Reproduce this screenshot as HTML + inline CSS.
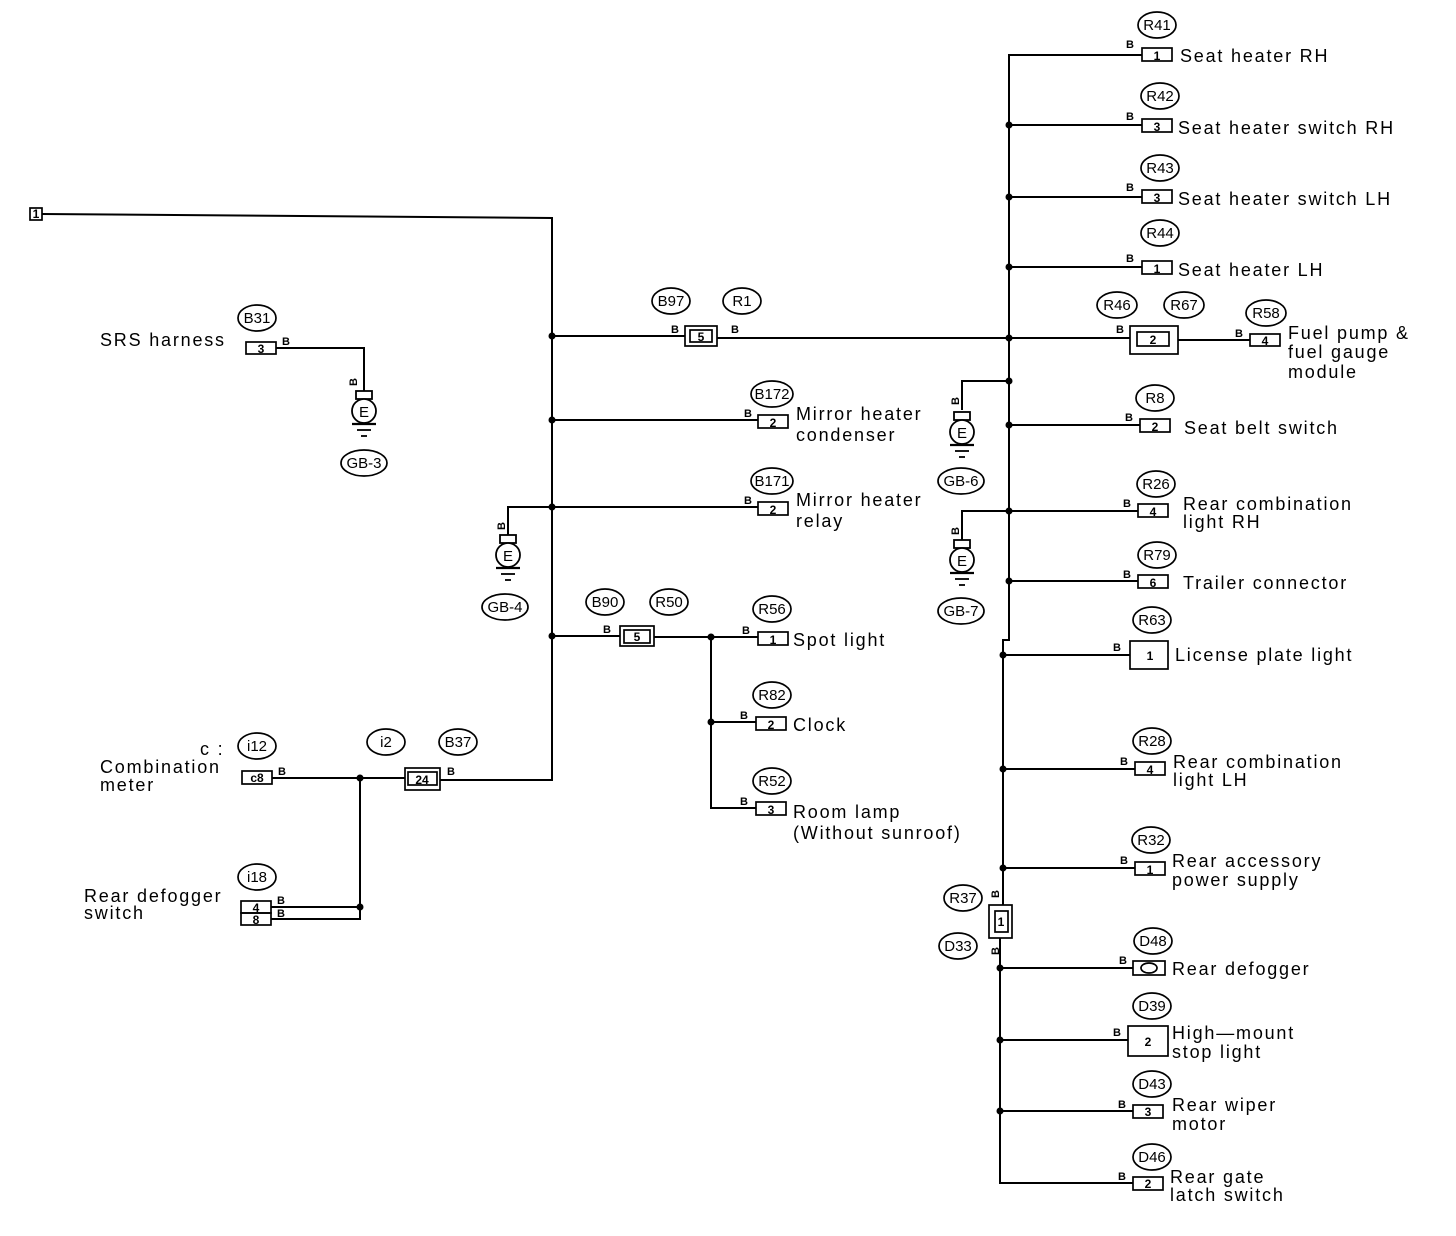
<!DOCTYPE html>
<html><head><meta charset="utf-8"><style>
html,body{margin:0;padding:0;background:#fff}
svg{display:block}
.t{font-family:"Liberation Sans",sans-serif;font-size:18px;letter-spacing:1.8px;fill:#000}
.r{font-family:"Liberation Sans",sans-serif;font-size:15px;fill:#000;text-anchor:middle}
.n{font-family:"Liberation Sans",sans-serif;font-size:12px;fill:#000;text-anchor:middle;font-weight:bold}
.b{font-family:"Liberation Sans",sans-serif;font-size:11px;fill:#000;font-weight:bold}
</style></head><body>
<svg width="1456" height="1236" viewBox="0 0 1456 1236" xmlns="http://www.w3.org/2000/svg">
<defs>
<g id="gnd"><rect x="-8" y="-20" width="16" height="8" fill="#fff" stroke="#000" stroke-width="1.8"/><circle cx="0" cy="0" r="12" fill="#fff" stroke="#000" stroke-width="1.8"/><text x="0" y="6" class="r">E</text><line x1="-12" y1="13" x2="12" y2="13" stroke="#000" stroke-width="2.2"/><line x1="-7" y1="19" x2="7" y2="19" stroke="#000" stroke-width="1.8"/><line x1="-3" y1="25" x2="3" y2="25" stroke="#000" stroke-width="1.8"/></g>
</defs>
<g stroke="#000" stroke-width="2" fill="none">
<polyline points="42,214 552,218 552,780 440,780"/>
<line x1="552" y1="336" x2="685" y2="336"/><line x1="717" y1="338" x2="1130" y2="338"/>
<line x1="552" y1="420" x2="758" y2="420"/>
<line x1="552" y1="507" x2="758" y2="507"/>
<polyline points="552,507 508,507 508,535"/>
<line x1="552" y1="636" x2="620" y2="636"/><line x1="654" y1="637" x2="758" y2="637"/>
<polyline points="711,637 711,808 756,808"/><line x1="711" y1="722" x2="756" y2="722"/>
<line x1="405" y1="778" x2="272" y2="778"/>
<polyline points="360,778 360,919 271,919"/><line x1="271" y1="907" x2="360" y2="907"/>
<polyline points="276,348 364,348 364,391"/>
<polyline points="1142,55 1009,55 1009,640 1003,640 1003,905"/>
<polyline points="1000,938 1000,1183 1133,1183"/>
<line x1="1009" y1="125" x2="1142" y2="125"/>
<line x1="1009" y1="197" x2="1142" y2="197"/>
<line x1="1009" y1="267" x2="1142" y2="267"/>
<line x1="1178" y1="340" x2="1250" y2="340"/>
<polyline points="1009,381 962,381 962,410"/>
<line x1="1009" y1="425" x2="1140" y2="425"/>
<line x1="1009" y1="511" x2="1138" y2="511"/>
<polyline points="1009,511 962,511 962,540"/>
<line x1="1009" y1="581" x2="1138" y2="581"/>
<line x1="1003" y1="655" x2="1130" y2="655"/>
<line x1="1003" y1="769" x2="1135" y2="769"/>
<line x1="1003" y1="868" x2="1135" y2="868"/>
<line x1="1000" y1="968" x2="1133" y2="968"/>
<line x1="1000" y1="1040" x2="1128" y2="1040"/>
<line x1="1000" y1="1111" x2="1133" y2="1111"/>
</g>
<g stroke="#000" stroke-width="1.7" fill="none">
<rect x="30" y="208" width="12" height="12"/>
<rect x="246" y="342" width="30" height="12"/>
<rect x="685" y="326" width="32" height="20"/><rect x="690" y="330" width="22" height="12"/>
<rect x="758" y="415" width="30" height="13"/>
<rect x="758" y="502" width="30" height="13"/>
<rect x="620" y="626" width="34" height="20"/><rect x="624" y="630" width="26" height="13"/>
<rect x="758" y="632" width="30" height="13"/>
<rect x="756" y="717" width="30" height="13"/>
<rect x="756" y="802" width="30" height="13"/>
<rect x="405" y="768" width="35" height="22"/><rect x="408" y="772" width="29" height="13"/>
<rect x="242" y="771" width="30" height="13"/>
<rect x="241" y="901" width="30" height="12"/><rect x="241" y="913" width="30" height="12"/>
<rect x="1142" y="48" width="30" height="13"/>
<rect x="1142" y="119" width="30" height="13"/>
<rect x="1142" y="190" width="30" height="13"/>
<rect x="1142" y="261" width="30" height="13"/>
<rect x="1130" y="326" width="48" height="28"/><rect x="1137" y="332" width="32" height="14"/>
<rect x="1250" y="334" width="30" height="12"/>
<rect x="1140" y="419" width="30" height="13"/>
<rect x="1138" y="504" width="30" height="13"/>
<rect x="1138" y="575" width="30" height="13"/>
<rect x="1130" y="641" width="38" height="28"/>
<rect x="1135" y="762" width="30" height="13"/>
<rect x="1135" y="862" width="30" height="13"/>
<rect x="989" y="905" width="23" height="33"/><rect x="995" y="911" width="13" height="21"/>
<rect x="1133" y="961" width="32" height="14"/><ellipse cx="1149" cy="968" rx="8" ry="5"/>
<rect x="1128" y="1026" width="40" height="30"/>
<rect x="1133" y="1105" width="30" height="13"/>
<rect x="1133" y="1177" width="30" height="13"/>
<ellipse cx="257" cy="318" rx="19" ry="13"/>
<ellipse cx="364" cy="463" rx="23" ry="13"/>
<ellipse cx="505" cy="607" rx="23" ry="13"/>
<ellipse cx="671" cy="301" rx="19" ry="13"/><ellipse cx="742" cy="301" rx="19" ry="13"/>
<ellipse cx="772" cy="394" rx="21" ry="13"/>
<ellipse cx="772" cy="481" rx="21" ry="13"/>
<ellipse cx="605" cy="602" rx="19" ry="13"/><ellipse cx="669" cy="602" rx="19" ry="13"/>
<ellipse cx="772" cy="609" rx="19" ry="13"/>
<ellipse cx="772" cy="695" rx="19" ry="13"/>
<ellipse cx="772" cy="781" rx="19" ry="13"/>
<ellipse cx="257" cy="746" rx="19" ry="13"/>
<ellipse cx="386" cy="742" rx="19" ry="13"/><ellipse cx="458" cy="742" rx="19" ry="13"/>
<ellipse cx="257" cy="877" rx="19" ry="13"/>
<ellipse cx="1157" cy="25" rx="19" ry="13"/>
<ellipse cx="1160" cy="96" rx="19" ry="13"/>
<ellipse cx="1160" cy="168" rx="19" ry="13"/>
<ellipse cx="1160" cy="233" rx="19" ry="13"/>
<ellipse cx="1117" cy="305" rx="20" ry="13"/><ellipse cx="1184" cy="305" rx="20" ry="13"/>
<ellipse cx="1266" cy="313" rx="20" ry="13"/>
<ellipse cx="1155" cy="398" rx="19" ry="13"/>
<ellipse cx="961" cy="481" rx="23" ry="13"/>
<ellipse cx="1156" cy="484" rx="19" ry="13"/>
<ellipse cx="1157" cy="555" rx="19" ry="13"/>
<ellipse cx="961" cy="611" rx="23" ry="13"/>
<ellipse cx="1152" cy="620" rx="19" ry="13"/>
<ellipse cx="1152" cy="741" rx="19" ry="13"/>
<ellipse cx="1151" cy="840" rx="19" ry="13"/>
<ellipse cx="963" cy="898" rx="19" ry="13"/>
<ellipse cx="958" cy="946" rx="19" ry="13"/>
<ellipse cx="1153" cy="941" rx="19" ry="13"/>
<ellipse cx="1152" cy="1006" rx="19" ry="13"/>
<ellipse cx="1152" cy="1084" rx="19" ry="13"/>
<ellipse cx="1152" cy="1157" rx="19" ry="13"/>
</g>
<g fill="#000">
<circle cx="552" cy="336" r="3.5"/><circle cx="552" cy="420" r="3.5"/><circle cx="552" cy="507" r="3.5"/><circle cx="552" cy="636" r="3.5"/>
<circle cx="711" cy="637" r="3.5"/><circle cx="711" cy="722" r="3.5"/>
<circle cx="360" cy="778" r="3.5"/><circle cx="360" cy="907" r="3.5"/>
<circle cx="1009" cy="125" r="3.5"/><circle cx="1009" cy="197" r="3.5"/><circle cx="1009" cy="267" r="3.5"/><circle cx="1009" cy="338" r="3.5"/><circle cx="1009" cy="381" r="3.5"/><circle cx="1009" cy="425" r="3.5"/><circle cx="1009" cy="511" r="3.5"/><circle cx="1009" cy="581" r="3.5"/><circle cx="1003" cy="655" r="3.5"/><circle cx="1003" cy="769" r="3.5"/><circle cx="1003" cy="868" r="3.5"/><circle cx="1000" cy="968" r="3.5"/><circle cx="1000" cy="1040" r="3.5"/><circle cx="1000" cy="1111" r="3.5"/>
</g>
<use href="#gnd" x="364" y="411"/>
<use href="#gnd" x="508" y="555"/>
<use href="#gnd" x="962" y="432"/>
<use href="#gnd" x="962" y="560"/>
<text class="n" x="36" y="218">1</text>
<text class="n" x="261" y="353">3</text>
<text class="n" x="701" y="341">5</text>
<text class="n" x="773" y="427">2</text>
<text class="n" x="773" y="514">2</text>
<text class="n" x="637" y="641">5</text>
<text class="n" x="773" y="644">1</text>
<text class="n" x="771" y="729">2</text>
<text class="n" x="771" y="814">3</text>
<text class="n" x="422" y="784">24</text>
<text class="n" x="257" y="782">c8</text>
<text class="n" x="256" y="912">4</text><text class="n" x="256" y="924">8</text>
<text class="n" x="1157" y="60">1</text><text class="n" x="1157" y="131">3</text><text class="n" x="1157" y="202">3</text><text class="n" x="1157" y="273">1</text>
<text class="n" x="1153" y="344">2</text><text class="n" x="1265" y="345">4</text>
<text class="n" x="1155" y="431">2</text><text class="n" x="1153" y="516">4</text><text class="n" x="1153" y="587">6</text>
<text class="n" x="1150" y="660">1</text><text class="n" x="1150" y="774">4</text><text class="n" x="1150" y="874">1</text>
<text class="n" x="1001" y="926">1</text>
<text class="n" x="1148" y="1046">2</text><text class="n" x="1148" y="1116">3</text><text class="n" x="1148" y="1188">2</text>
<text class="b" x="282" y="345">B</text><text class="b" x="671" y="333">B</text><text class="b" x="731" y="333">B</text>
<text class="b" x="744" y="417">B</text><text class="b" x="744" y="504">B</text><text class="b" x="603" y="633">B</text><text class="b" x="742" y="634">B</text><text class="b" x="740" y="719">B</text><text class="b" x="740" y="805">B</text>
<text class="b" x="447" y="775">B</text><text class="b" x="278" y="775">B</text><text class="b" x="277" y="904">B</text><text class="b" x="277" y="917">B</text>
<text class="b" x="1126" y="48">B</text><text class="b" x="1126" y="120">B</text><text class="b" x="1126" y="191">B</text><text class="b" x="1126" y="262">B</text>
<text class="b" x="1116" y="333">B</text><text class="b" x="1235" y="337">B</text><text class="b" x="1125" y="421">B</text><text class="b" x="1123" y="507">B</text><text class="b" x="1123" y="578">B</text><text class="b" x="1113" y="651">B</text><text class="b" x="1120" y="765">B</text><text class="b" x="1120" y="864">B</text><text class="b" x="1119" y="964">B</text><text class="b" x="1113" y="1036">B</text><text class="b" x="1118" y="1108">B</text><text class="b" x="1118" y="1180">B</text>
<text class="b" transform="translate(357,386) rotate(-90)">B</text>
<text class="b" transform="translate(505,530) rotate(-90)">B</text>
<text class="b" transform="translate(959,405) rotate(-90)">B</text>
<text class="b" transform="translate(959,535) rotate(-90)">B</text>
<text class="b" transform="translate(999,898) rotate(-90)">B</text>
<text class="b" transform="translate(999,955) rotate(-90)">B</text>
<text class="r" x="257" y="323">B31</text><text class="r" x="364" y="468">GB-3</text><text class="r" x="505" y="612">GB-4</text>
<text class="r" x="671" y="306">B97</text><text class="r" x="742" y="306">R1</text>
<text class="r" x="772" y="399">B172</text><text class="r" x="772" y="486">B171</text>
<text class="r" x="605" y="607">B90</text><text class="r" x="669" y="607">R50</text>
<text class="r" x="772" y="614">R56</text><text class="r" x="772" y="700">R82</text><text class="r" x="772" y="786">R52</text>
<text class="r" x="257" y="751">i12</text><text class="r" x="386" y="747">i2</text><text class="r" x="458" y="747">B37</text><text class="r" x="257" y="882">i18</text>
<text class="r" x="1157" y="30">R41</text><text class="r" x="1160" y="101">R42</text><text class="r" x="1160" y="173">R43</text><text class="r" x="1160" y="238">R44</text>
<text class="r" x="1117" y="310">R46</text><text class="r" x="1184" y="310">R67</text><text class="r" x="1266" y="318">R58</text>
<text class="r" x="1155" y="403">R8</text><text class="r" x="961" y="486">GB-6</text><text class="r" x="1156" y="489">R26</text><text class="r" x="1157" y="560">R79</text><text class="r" x="961" y="616">GB-7</text>
<text class="r" x="1152" y="625">R63</text><text class="r" x="1152" y="746">R28</text><text class="r" x="1151" y="845">R32</text>
<text class="r" x="963" y="903">R37</text><text class="r" x="958" y="951">D33</text>
<text class="r" x="1153" y="946">D48</text><text class="r" x="1152" y="1011">D39</text><text class="r" x="1152" y="1089">D43</text><text class="r" x="1152" y="1162">D46</text>
<text class="t" x="100" y="346">SRS harness</text>
<text class="t" x="796" y="420">Mirror heater</text><text class="t" x="796" y="441">condenser</text>
<text class="t" x="796" y="506">Mirror heater</text><text class="t" x="796" y="527">relay</text>
<text class="t" x="793" y="646">Spot light</text>
<text class="t" x="793" y="731">Clock</text>
<text class="t" x="793" y="818">Room lamp</text><text class="t" x="793" y="839">(Without sunroof)</text>
<text class="t" x="200" y="755">c :</text>
<text class="t" x="100" y="773">Combination</text><text class="t" x="100" y="791">meter</text>
<text class="t" x="84" y="902">Rear defogger</text><text class="t" x="84" y="919">switch</text>
<text class="t" x="1180" y="62">Seat heater RH</text>
<text class="t" x="1178" y="134">Seat heater switch RH</text>
<text class="t" x="1178" y="205">Seat heater switch LH</text>
<text class="t" x="1178" y="276">Seat heater LH</text>
<text class="t" x="1288" y="339">Fuel pump &amp;</text><text class="t" x="1288" y="358">fuel gauge</text><text class="t" x="1288" y="378">module</text>
<text class="t" x="1184" y="434">Seat belt switch</text>
<text class="t" x="1183" y="510">Rear combination</text><text class="t" x="1183" y="528">light RH</text>
<text class="t" x="1183" y="589">Trailer connector</text>
<text class="t" x="1175" y="661">License plate light</text>
<text class="t" x="1173" y="768">Rear combination</text><text class="t" x="1173" y="786">light LH</text>
<text class="t" x="1172" y="867">Rear accessory</text><text class="t" x="1172" y="886">power supply</text>
<text class="t" x="1172" y="975">Rear defogger</text>
<text class="t" x="1172" y="1039">High—mount</text><text class="t" x="1172" y="1058">stop light</text>
<text class="t" x="1172" y="1111">Rear wiper</text><text class="t" x="1172" y="1130">motor</text>
<text class="t" x="1170" y="1183">Rear gate</text><text class="t" x="1170" y="1201">latch switch</text>
</svg>
</body></html>
